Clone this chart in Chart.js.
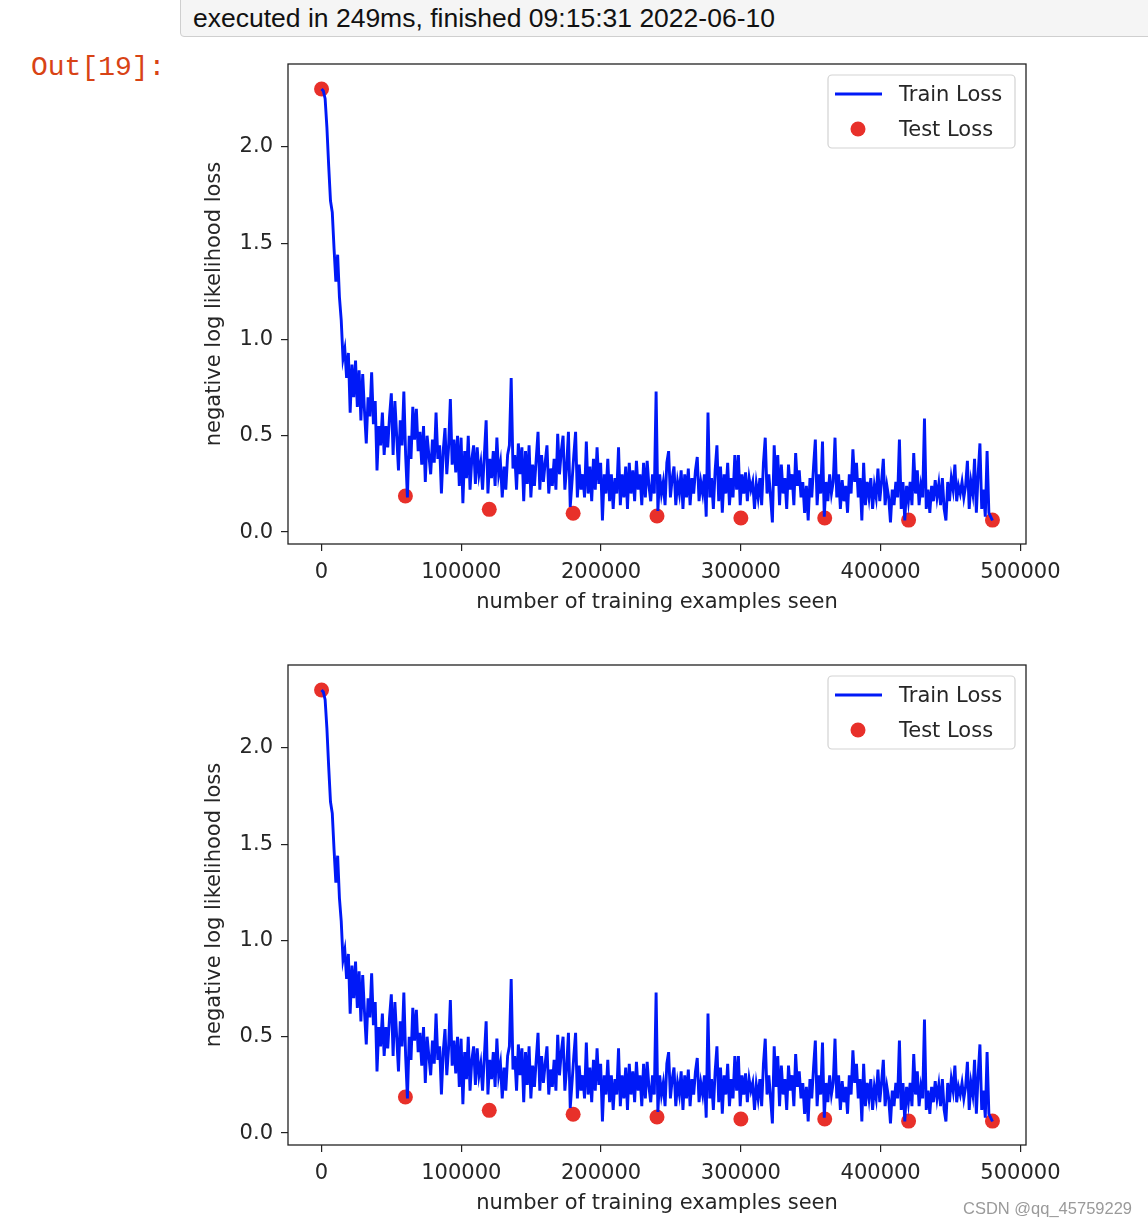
<!DOCTYPE html>
<html>
<head>
<meta charset="utf-8">
<script src="https://cdn.jsdelivr.net/npm/chart.js@4.4.0/dist/chart.umd.min.js"></script>
<style>
html,body{margin:0;padding:0;background:#fff;}
body{width:1148px;height:1226px;overflow:hidden;position:relative;}
#exec{position:absolute;left:180px;top:-1px;width:990px;height:38px;box-sizing:border-box;border:1px solid #cfcfcf;border-radius:0 0 0 4px;background:#f5f5f5;font:26.5px "Liberation Sans",Arial,sans-serif;color:#111;line-height:36px;padding-left:12px;white-space:nowrap;}
#out{position:absolute;left:31px;top:50px;font:28px "Liberation Mono","DejaVu Sans Mono",monospace;color:#d84315;line-height:36px;}
.wrap{position:absolute;left:180px;width:900px;height:590px;}
#w1{top:40px;}
#w2{top:641px;height:585px;}
#wm{position:absolute;left:963px;top:1199px;font:16.5px "Liberation Sans",Arial,sans-serif;color:#9a9a9a;white-space:nowrap;}
</style>
</head>
<body>
<div id="exec">executed in 249ms, finished 09:15:31 2022-06-10</div>
<div id="out">Out[19]:</div>
<div class="wrap" id="w1"><canvas id="c1" width="900" height="590" style="width:900px;height:590px"></canvas></div>
<div class="wrap" id="w2"><canvas id="c2" width="900" height="585" style="width:900px;height:585px"></canvas></div>
<div id="wm">CSDN @qq_45759229</div>
<script>
// ---------------- data ----------------
const trainLabel = "Train Loss";
const testLabel = "Test Loss";
const xAxisTitle = "number of training examples seen";
const yAxisTitle = "negative log likelihood loss";

// examples seen between two logged train-loss values
const trainExamplesPerLog = 1280;
const trainLoss = [
  2.30, 2.29, 2.25, 2.10, 1.90, 1.72, 1.66, 1.47, 1.30, 1.44, 1.22, 1.10, 0.90, 0.95, 0.80, 0.93, 0.62, 0.87, 0.70, 0.89,
  0.65, 0.84, 0.58, 0.82, 0.63, 0.46, 0.70, 0.60, 0.83, 0.56, 0.68, 0.32, 0.55, 0.45, 0.62, 0.40, 0.55, 0.44, 0.60, 0.72,
  0.40, 0.68, 0.50, 0.32, 0.58, 0.45, 0.73, 0.40, 0.18, 0.50, 0.38, 0.65, 0.48, 0.64, 0.42, 0.52, 0.35, 0.55, 0.26, 0.50,
  0.40, 0.30, 0.48, 0.36, 0.62, 0.38, 0.45, 0.20, 0.42, 0.54, 0.30, 0.44, 0.69, 0.35, 0.48, 0.31, 0.50, 0.24, 0.49, 0.15,
  0.42, 0.28, 0.50, 0.22, 0.38, 0.45, 0.25, 0.44, 0.30, 0.36, 0.22, 0.40, 0.58, 0.20, 0.38, 0.28, 0.42, 0.24, 0.49, 0.30,
  0.36, 0.18, 0.34, 0.22, 0.40, 0.45, 0.80, 0.33, 0.40, 0.22, 0.46, 0.30, 0.44, 0.16, 0.42, 0.25, 0.45, 0.18, 0.35, 0.24,
  0.38, 0.52, 0.22, 0.40, 0.26, 0.36, 0.45, 0.20, 0.33, 0.24, 0.38, 0.22, 0.51, 0.30, 0.42, 0.50, 0.22, 0.34, 0.52, 0.13,
  0.26, 0.40, 0.52, 0.18, 0.35, 0.22, 0.30, 0.18, 0.47, 0.20, 0.34, 0.16, 0.38, 0.22, 0.44, 0.25, 0.36, 0.06, 0.30, 0.20,
  0.38, 0.16, 0.30, 0.12, 0.28, 0.20, 0.44, 0.14, 0.30, 0.18, 0.34, 0.12, 0.36, 0.20, 0.32, 0.16, 0.37, 0.22, 0.30, 0.14,
  0.36, 0.18, 0.37, 0.24, 0.16, 0.30, 0.20, 0.73, 0.11, 0.30, 0.20, 0.26, 0.14, 0.36, 0.42, 0.18, 0.28, 0.34, 0.14, 0.26,
  0.20, 0.32, 0.12, 0.30, 0.18, 0.33, 0.14, 0.28, 0.20, 0.32, 0.39, 0.16, 0.26, 0.20, 0.30, 0.08, 0.62, 0.18, 0.28, 0.12,
  0.32, 0.45, 0.16, 0.34, 0.10, 0.30, 0.20, 0.36, 0.14, 0.28, 0.18, 0.40, 0.22, 0.40, 0.14, 0.30, 0.20, 0.31, 0.16, 0.28,
  0.22, 0.26, 0.12, 0.25, 0.18, 0.28, 0.14, 0.36, 0.49, 0.20, 0.30, 0.18, 0.05, 0.45, 0.24, 0.40, 0.14, 0.35, 0.20, 0.28,
  0.12, 0.35, 0.22, 0.30, 0.14, 0.41, 0.24, 0.32, 0.18, 0.26, 0.10, 0.24, 0.06, 0.28, 0.18, 0.34, 0.48, 0.14, 0.30, 0.20,
  0.47, 0.08, 0.26, 0.16, 0.30, 0.20, 0.26, 0.49, 0.18, 0.30, 0.12, 0.27, 0.16, 0.24, 0.10, 0.30, 0.20, 0.43, 0.26, 0.36,
  0.18, 0.28, 0.06, 0.36, 0.14, 0.26, 0.18, 0.28, 0.12, 0.24, 0.18, 0.33, 0.16, 0.26, 0.38, 0.14, 0.24, 0.18, 0.05, 0.22,
  0.14, 0.26, 0.18, 0.48, 0.12, 0.26, 0.06, 0.24, 0.16, 0.26, 0.14, 0.41, 0.20, 0.32, 0.14, 0.24, 0.18, 0.59, 0.12, 0.22,
  0.10, 0.24, 0.16, 0.27, 0.18, 0.25, 0.14, 0.28, 0.12, 0.06, 0.26, 0.16, 0.28, 0.22, 0.35, 0.16, 0.24, 0.20, 0.26, 0.18,
  0.24, 0.37, 0.12, 0.26, 0.20, 0.38, 0.10, 0.30, 0.46, 0.12, 0.22, 0.08, 0.42, 0.10, 0.08, 0.06
];

const testExamples = [0, 60000, 120000, 180000, 240000, 300000, 360000, 420000, 480000];
const testLoss = [2.30, 0.187, 0.118, 0.098, 0.083, 0.073, 0.073, 0.062, 0.062];

const xTickValues = [0, 100000, 200000, 300000, 400000, 500000];
const xTickLabels = ["0", "100000", "200000", "300000", "400000", "500000"];
const yTickValues = [0, 0.5, 1.0, 1.5, 2.0];
const yTickLabels = ["0.0", "0.5", "1.0", "1.5", "2.0"];

// ---------------- chart ----------------
const FONT = "DejaVu Sans";
const TXT = "#262626";
Chart.defaults.font.family = FONT;
Chart.defaults.font.size = 21;
Chart.defaults.color = TXT;

const framePlugin = {
  id: 'frame',
  afterDatasetsDraw(chart) {
    const {ctx, chartArea: a} = chart;
    ctx.save();
    ctx.strokeStyle = '#222';
    ctx.lineWidth = 1.3;
    ctx.strokeRect(a.left, a.top, a.right - a.left, a.bottom - a.top);
    ctx.restore();
  }
};

const legendPlugin = {
  id: 'mplLegend',
  afterDatasetsDraw(chart) {
    const {ctx, chartArea: a} = chart;
    const ds = chart.data.datasets;
    const bx = a.right - 198, by = a.top + 11, bw = 187, bh = 73;
    ctx.save();
    ctx.beginPath();
    ctx.roundRect(bx, by, bw, bh, 4);
    ctx.fillStyle = 'rgba(255,255,255,0.85)';
    ctx.fill();
    ctx.strokeStyle = '#d3d3d3';
    ctx.lineWidth = 1.2;
    ctx.stroke();
    const rows = [by + 19, by + 54];
    // line handle
    ctx.beginPath();
    ctx.moveTo(bx + 7, rows[0]);
    ctx.lineTo(bx + 54, rows[0]);
    ctx.strokeStyle = ds[0].borderColor;
    ctx.lineWidth = 2.8;
    ctx.stroke();
    // point handle
    ctx.beginPath();
    ctx.arc(bx + 30, rows[1], 7.5, 0, Math.PI * 2);
    ctx.fillStyle = ds[1].backgroundColor;
    ctx.fill();
    ctx.fillStyle = TXT;
    ctx.font = "21px '" + FONT + "'";
    ctx.textBaseline = 'middle';
    ctx.textAlign = 'left';
    ctx.fillText(ds[0].label, bx + 71, rows[0] + 2);
    ctx.fillText(ds[1].label, bx + 71, rows[1] + 2);
    ctx.restore();
  }
};

function makeChart(id, canvasHeight) {
  const trainData = trainLoss.map((v, i) => ({x: i * trainExamplesPerLog, y: v}));
  const testData = testLoss.map((v, i) => ({x: testExamples[i], y: v}));
  return new Chart(document.getElementById(id), {
    type: 'scatter',
    data: {
      datasets: [
        {
          label: trainLabel,
          data: trainData,
          showLine: true,
          borderColor: '#0019f7',
          backgroundColor: '#0019f7',
          borderWidth: 2.9,
          pointRadius: 0,
          tension: 0,
          order: 0
        },
        {
          label: testLabel,
          data: testData,
          showLine: false,
          borderColor: '#e8302a',
          backgroundColor: '#e8302a',
          pointRadius: 7.5,
          pointBorderWidth: 0,
          order: 1
        }
      ]
    },
    options: {
      responsive: false,
      animation: false,
      events: [],
      layout: {padding: {top: 24, right: 54, left: 0, bottom: 0}},
      plugins: {legend: {display: false}, tooltip: {enabled: false}},
      scales: {
        x: {
          type: 'linear',
          min: -24000,
          max: 504000,
          afterBuildTicks: s => { s.ticks = xTickValues.map(v => ({value: v})); },
          afterFit: s => { s.height = canvasHeight - 504; },
          ticks: {
            autoSkip: false, maxRotation: 0, padding: 9, color: TXT,
            font: {size: 21},
            callback: (v, i) => xTickLabels[i]
          },
          grid: {drawOnChartArea: false, drawTicks: true, tickLength: 7, color: '#222', lineWidth: 1.2},
          border: {display: false},
          title: {display: true, text: xAxisTitle, color: TXT, font: {size: 21}, padding: {top: 0, bottom: 15 + (canvasHeight - 590)}}
        },
        y: {
          type: 'linear',
          min: -0.062,
          max: 2.43,
          afterBuildTicks: s => { s.ticks = yTickValues.map(v => ({value: v})); },
          afterFit: s => { s.width = 108; },
          ticks: {
            padding: 8, color: TXT, font: {size: 21},
            callback: (v, i) => yTickLabels[i]
          },
          grid: {drawOnChartArea: false, drawTicks: true, tickLength: 7, color: '#222', lineWidth: 1.2},
          border: {display: false},
          title: {display: true, text: yAxisTitle, color: TXT, font: {size: 21}, padding: {top: 22, bottom: 0}}
        }
      }
    },
    plugins: [framePlugin, legendPlugin]
  });
}

makeChart('c1', 590);
makeChart('c2', 585);
</script>
</body>
</html>
